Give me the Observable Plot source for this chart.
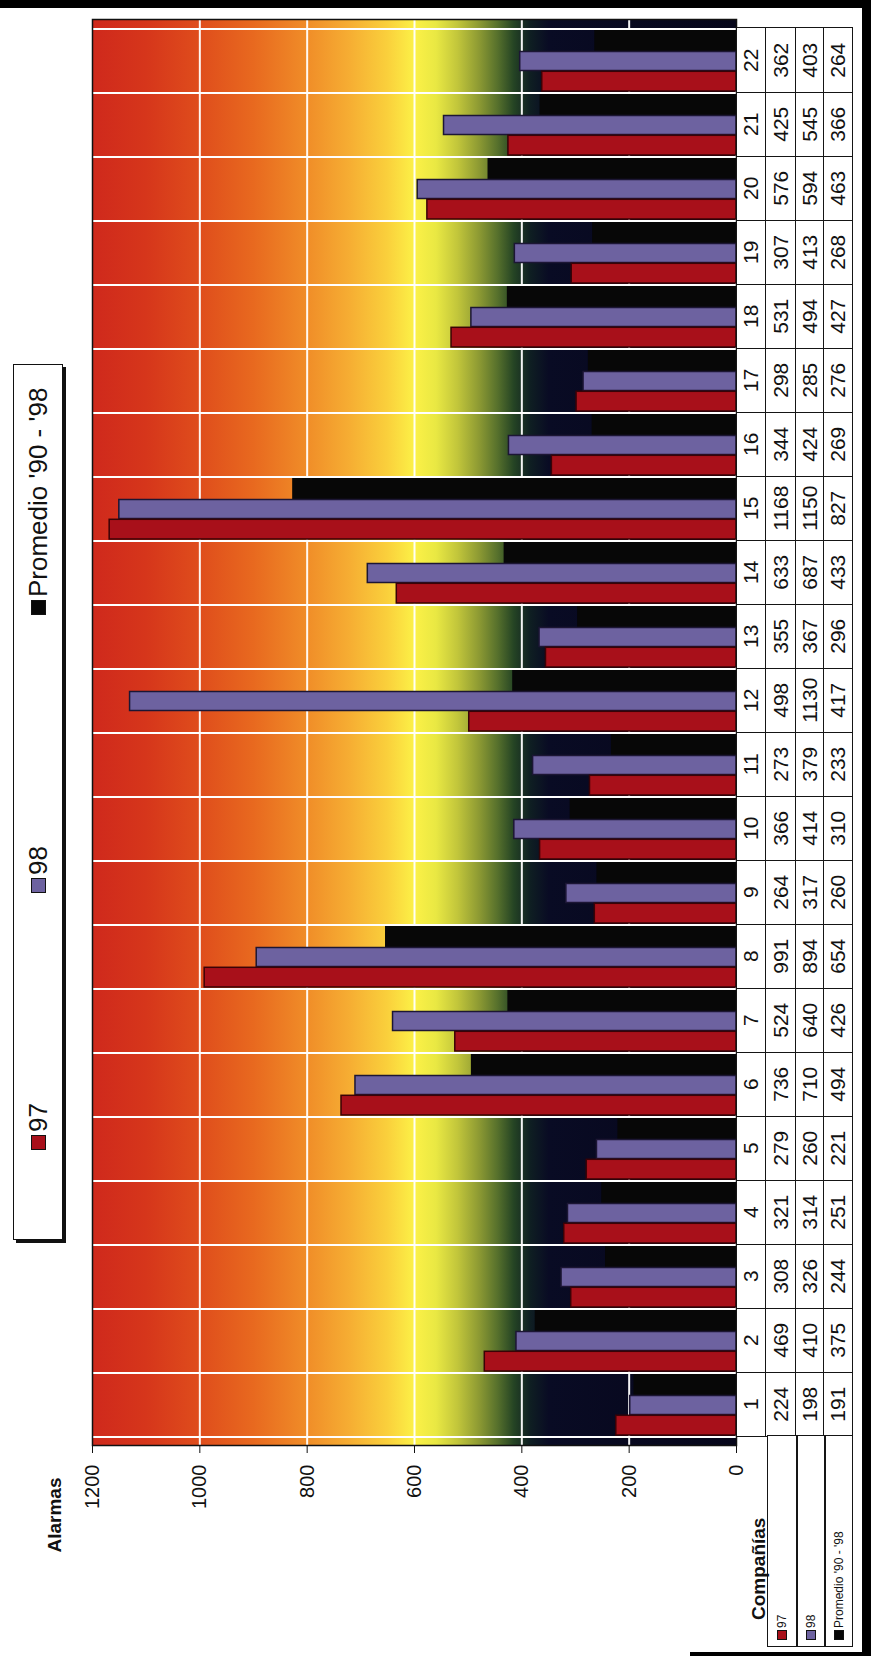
<!DOCTYPE html>
<html>
<head>
<meta charset="utf-8">
<script src="https://cdn.jsdelivr.net/npm/d3@7"></script>
<script src="https://cdn.jsdelivr.net/npm/@observablehq/plot@0.6"></script>
<style>
  html, body { margin: 0; padding: 0; background: #fff; }
  body { width: 871px; height: 1656px; overflow: hidden; position: relative; font-family: "Liberation Sans", Arial, sans-serif; color: #111; }
  #rot { position: absolute; left: 0; top: 0; width: 1656px; height: 871px; transform-origin: 0 0; transform: translate(0px, 1656px) rotate(-90deg); }
  #rot svg { position: absolute; left: 0; top: 0; }
  .cell { position: absolute; box-sizing: border-box; border: 1.5px solid #151515; display: flex; align-items: center; justify-content: center; font-size: 21px; background: #fff; }
  .lab { justify-content: flex-start; padding-left: 6px; font-size: 12px; }
  .sw { display: inline-block; width: 8px; height: 8px; border: 1px solid #111; margin-right: 2px; }
  #legend { position: absolute; box-sizing: border-box; border: 1.5px solid #111; box-shadow: -3px 3px 0 #111; background: #fff; }
  .li { position: absolute; top: 0; height: 100%; display: flex; align-items: center; font-size: 26px; white-space: nowrap; }
  .lsw { display: inline-block; width: 13px; height: 13px; border: 1px solid #111; margin-right: 3px; }
  .bord { position: absolute; background: #000; }
</style>
</head>
<body>
<div id="rot"></div>
<script>
// ---- data ----
const companies = [1, 2, 3, 4, 5, 6, 7, 8, 9, 10, 11, 12, 13, 14, 15, 16, 17, 18, 19, 20, 21, 22];
const s97  = [224, 469, 308, 321, 279, 736, 524, 991, 264, 366, 273, 498, 355, 633, 1168, 344, 298, 531, 307, 576, 425, 362];
const s98  = [198, 410, 326, 314, 260, 710, 640, 894, 317, 414, 379, 1130, 367, 687, 1150, 424, 285, 494, 413, 594, 545, 403];
const sProm = [191, 375, 244, 251, 221, 494, 426, 654, 260, 310, 233, 417, 296, 433, 827, 269, 276, 427, 268, 463, 366, 264];
const seriesNames = ["97", "98", "Promedio '90 - '98"];
const seriesColors = ["#a8101a", "#6d62a0", "#070707"];
const yTicks = [0, 200, 400, 600, 800, 1000, 1200];
const yLabel = "Alarmas";
const xLabel = "Compañías";
// background colour ramp along the value axis
const gradValues = [1200, 1100, 1000, 900, 800, 720, 650, 600, 560, 520, 480, 445, 415, 385, 350, 0];
const gradColors = ["#cf291c", "#d6361b", "#df4d1c", "#e8691f", "#f08d28", "#f6ae33", "#fad03c", "#fcf147", "#e9e843", "#c2c63b", "#8d9a33", "#56702c", "#254424", "#0f1f22", "#090b24", "#06061a"];

const seriesValues = [s97, s98, sProm];
const rows = [];
companies.forEach((c, i) => seriesNames.forEach((s, k) => rows.push({company: c, series: s, value: seriesValues[k][i]})));
const bySeries = s => rows.filter(r => r.series === s);

const W = 1656, H = 871;
const chart = Plot.plot({
  width: W, height: H,
  marginLeft: 210, marginRight: 20, marginTop: 92, marginBottom: 135,
  style: {fontFamily: "Liberation Sans, Arial, sans-serif", fontSize: "20px", color: "#111", background: "transparent", overflow: "visible"},
  x: {type: "band", domain: companies, padding: 0, axis: null},
  y: {domain: [0, 1200], axis: null},
  marks: [
    Plot.frame({fill: "url(#bgGrad)"}),
    Plot.ruleY(yTicks.filter(v => v > 0 && v < 1200), {stroke: "#ffffff", strokeWidth: 2, strokeOpacity: 0.95}),
    Plot.barY(companies, {x: d => d, y1: 0, y2: 1200, fill: "none", stroke: "#ffffff", strokeWidth: 2}),
    Plot.barY(bySeries(seriesNames[2]), {x: "company", y: "value", fill: seriesColors[2], insetLeft: 41.5, insetRight: 1}),
    Plot.barY(bySeries(seriesNames[1]), {x: "company", y: "value", fill: seriesColors[1], stroke: "#1c1634", strokeWidth: 1.5, insetLeft: 22.5, insetRight: 22.5}),
    Plot.barY(bySeries(seriesNames[0]), {x: "company", y: "value", fill: seriesColors[0], stroke: "#3a0206", strokeWidth: 1.5, insetLeft: 2, insetRight: 42.3}),
    Plot.frame({stroke: "#111", strokeWidth: 1.5}),
    Plot.axisY({ticks: yTicks, label: null, tickSize: 7, tickPadding: 12, fontSize: 20, tickFormat: d => String(d), stroke: "#111"}),
    Plot.text([yLabel], {frameAnchor: "top-left", dx: -107, dy: -45, textAnchor: "start", fontWeight: "bold", fontSize: 19})
  ]
});

// gradient defs placed from the y scale
const ys = chart.scale("y");
const yTop = ys.apply(1200), yBot = ys.apply(0);
const svgSel = d3.select(chart);
const lg = svgSel.insert("defs", ":first-child").append("linearGradient")
  .attr("id", "bgGrad").attr("x1", 0).attr("y1", 0).attr("x2", 0).attr("y2", 1);
gradValues.forEach((v, i) => {
  lg.append("stop").attr("offset", (ys.apply(v) - yTop) / (yBot - yTop)).attr("stop-color", gradColors[i]);
});

const rot = document.getElementById("rot");
rot.appendChild(chart);

// ---- data table under the plot, aligned to the band scale ----
const xs = chart.scale("x");
const bw = xs.bandwidth;
const rowTops = [yBot, yBot + 29, yBot + 59, yBot + 87];
const rowHs = [30.5, 31.5, 29.5, 29.5];
function cell(left, top, w, h, html, cls) {
  const d = document.createElement("div");
  d.className = "cell" + (cls ? " " + cls : "");
  d.style.left = left + "px"; d.style.top = top + "px";
  d.style.width = w + "px"; d.style.height = h + "px";
  d.innerHTML = html;
  rot.appendChild(d);
  return d;
}
companies.forEach((c, i) => {
  const x0 = xs.apply(c);
  cell(x0, rowTops[0], bw + 1.5, rowHs[0], String(c));
  seriesValues.forEach((arr, k) => cell(x0, rowTops[k + 1], bw + 1.5, rowHs[k + 1], String(arr[i])));
});
const plotLeft = xs.apply(companies[0]);
seriesNames.forEach((s, k) => {
  cell(9, rowTops[k + 1] + 2, plotLeft - 9 + 1.5, rowHs[k + 1] - 2,
    `<span class="sw" style="background:${seriesColors[k]}"></span>${s}`, "lab");
});
const cx = document.createElement("div");
cx.style.cssText = "position:absolute;left:36px;top:" + (yBot + 12) + "px;font-size:19px;font-weight:bold;line-height:22px;white-space:nowrap;";
cx.textContent = xLabel;
rot.appendChild(cx);

// ---- legend ----
const leg = document.createElement("div");
leg.id = "legend";
const legLeft = 416;
leg.style.left = legLeft + "px"; leg.style.top = "13px"; leg.style.width = "876px"; leg.style.height = "50px";
const legX = [505, 762, 1040];
seriesNames.forEach((s, k) => {
  const it = document.createElement("div");
  it.className = "li";
  it.style.left = (legX[k] - legLeft) + "px";
  it.innerHTML = `<span class="lsw" style="background:${seriesColors[k]}"></span>${s}`;
  leg.appendChild(it);
});
rot.appendChild(leg);

// ---- page edges of the scanned sheet ----
[[0, 862, 1656, 9], [1648, 0, 8, 871], [0, 690, 4, 181]].forEach(([l, t, w, h]) => {
  const b = document.createElement("div");
  b.className = "bord";
  b.style.cssText = `left:${l}px;top:${t}px;width:${w}px;height:${h}px;`;
  rot.appendChild(b);
});
</script>
</body>
</html>
